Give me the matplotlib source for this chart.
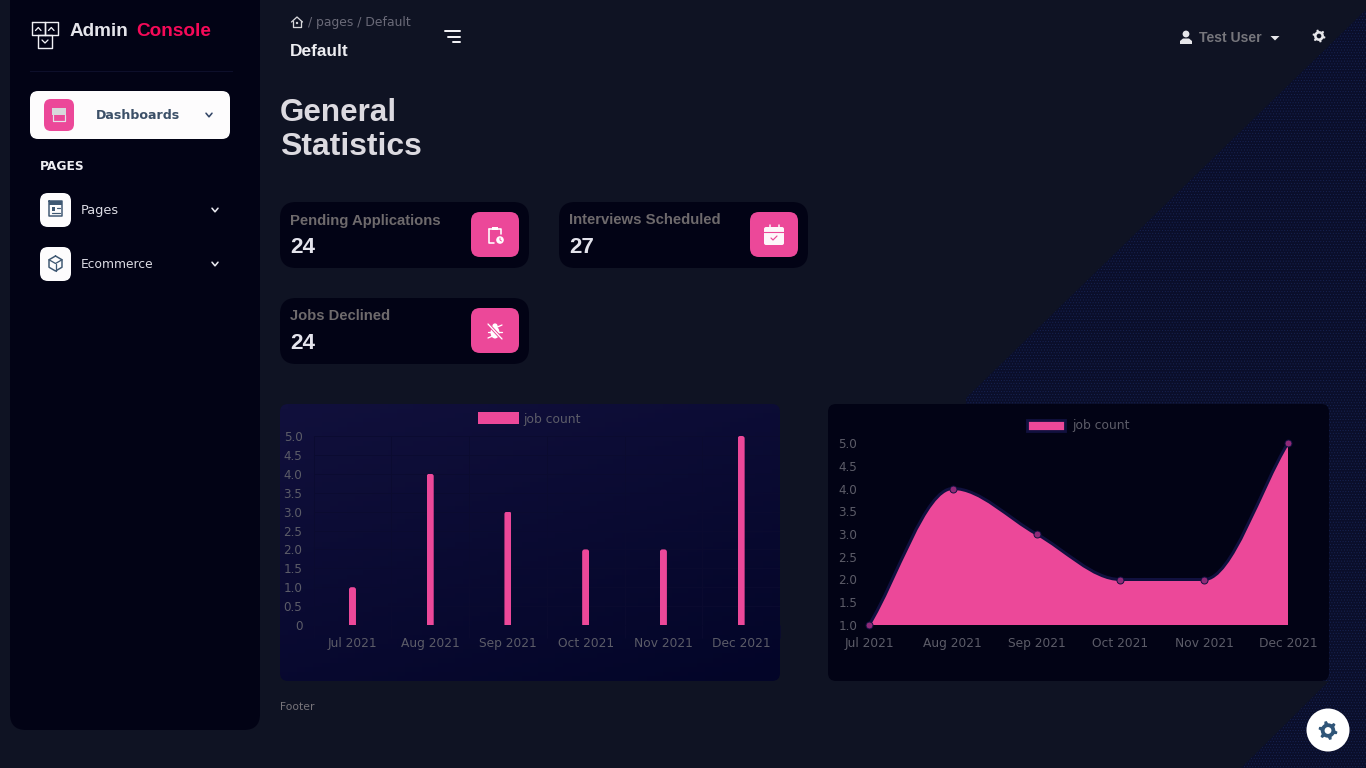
import numpy as np
import matplotlib
matplotlib.use("Agg")
import matplotlib.pyplot as plt
from matplotlib.patches import FancyBboxPatch, Polygon, Circle, Rectangle, PathPatch, Patch, Ellipse
from matplotlib.path import Path

months = ["Jul 2021", "Aug 2021", "Sep 2021", "Oct 2021", "Nov 2021", "Dec 2021"]
bar_counts = [1, 4, 3, 2, 2, 5]
line_counts = [1, 4, 3, 2, 2, 5]
bar_yticks = [0, 0.5, 1.0, 1.5, 2.0, 2.5, 3.0, 3.5, 4.0, 4.5, 5.0]
bar_ylabels = ["0", "0.5", "1.0", "1.5", "2.0", "2.5", "3.0", "3.5", "4.0", "4.5", "5.0"]
line_yticks = [1.0, 1.5, 2.0, 2.5, 3.0, 3.5, 4.0, 4.5, 5.0]
line_ylabels = ["1.0", "1.5", "2.0", "2.5", "3.0", "3.5", "4.0", "4.5", "5.0"]
series_name = "job count"
stat_titles = ["Pending Applications", "Interviews Scheduled", "Jobs Declined"]
stat_values = ["24", "27", "24"]

W, H = 1366, 768
BG, PANEL, PINK = "#0f1323", "#020315", "#ec4899"
NAVY = "#11113f"
SERIF = "Liberation Sans"
WIDE = "DejaVu Sans"

fig = plt.figure(figsize=(W / 100, H / 100), dpi=100, facecolor=BG)
ax = fig.add_axes([0, 0, 1, 1], zorder=0)
ax.set_xlim(0, W)
ax.set_ylim(H, 0)
ax.axis("off")


def rbox(x0, y0, x1, y1, r, color, z=2, **kw):
    p = FancyBboxPatch((x0 + r, y0 + r), x1 - x0 - 2 * r, y1 - y0 - 2 * r,
                       boxstyle=f"round,pad={r},rounding_size={r}",
                       fc=color, ec="none", zorder=z, **kw)
    ax.add_patch(p)
    return p


def label(x, y, s, px, color, weight="normal", family=WIDE, width=None, ha="left", z=6):
    y = y + (1.5 if family == SERIF else 0.7) + (1.5 if px >= 28 else 0)
    t = ax.text(x, y, s, fontsize=px * 0.72, color=color, fontweight=weight,
                family=family, va="center", ha=ha, zorder=z)
    if width:
        r = fig.canvas.get_renderer()
        t.set_fontsize(t.get_fontsize() * width / t.get_window_extent(r).width)
    return t


def stroke(pts, color, lw=1.3, z=7, closed=False):
    pts = list(pts)
    if closed:
        pts.append(pts[0])
    ax.plot(*zip(*pts), color=color, lw=lw * 0.72, zorder=z,
            solid_capstyle="round", solid_joinstyle="round")


def chevron(cx, cy, color, s=3, lw=1.6):
    stroke([(cx - s, cy - s * 0.6), (cx, cy + s * 0.6), (cx + s, cy - s * 0.6)], color, lw)


def gear(cx, cy, r, color, hole, z=8):
    ang = np.radians(np.arange(0, 360, 7.5))
    phase = (np.arange(len(ang)) % 8)
    rad = np.where(phase < 3, r, r * 0.76)
    ax.add_patch(Polygon(np.c_[cx + rad * np.cos(ang + 0.13), cy + rad * np.sin(ang + 0.13)],
                         fc=color, ec="none", zorder=z))
    ax.add_patch(Circle((cx, cy), r * 0.36, fc=hole, ec="none", zorder=z + 1))


# diagonal dotted background band
plt.rcParams["hatch.linewidth"] = 0.4
ax.add_patch(Polygon([(1376, 0), (966, 398), (966, 681), (1329, 681), (1241, 768), (1366, 768), (1366, 0)],
                     fc="#0a0e2a", ec="#172352", hatch="......", lw=0, zorder=1))

# sidebar
rbox(10, -20, 260, 730, 16, PANEL)
ax.plot([30, 232], [70.5, 70.5], color="#0d0f2a", lw=0.8, zorder=3)

# logo
for (a, b, c, d) in [(32, 22, 44.5, 35), (45, 22, 58, 35), (38, 35, 52, 48)]:
    stroke([(a, b), (c, b), (c, d), (a, d)], "#f0f0f4", 1.4, closed=True)
stroke([(35.5, 30.5), (38.3, 27.5), (41, 30.5)], "#f0f0f4", 1.3)
stroke([(48.5, 30.5), (51.3, 27.5), (54, 30.5)], "#f0f0f4", 1.3)
stroke([(42, 40), (45, 43), (48, 40)], "#f0f0f4", 1.3)
label(70, 29.5, "Admin", 18, "#e4e4ea", "bold", SERIF, width=59)
label(136, 29.5, "Console", 18, "#f50a58", "bold", SERIF, width=75)

# active nav item
rbox(30, 91, 230, 139, 8, "#fdfcfd", 3)
rbox(44, 99, 74, 131, 7, PINK, 4)
ax.add_patch(Rectangle((52, 108), 14, 7, fc="#d8d8dc", ec="none", zorder=5))
stroke([(53, 115), (53, 121), (65, 121), (65, 115)], "#e4e4e8", 1.2)
label(96, 115, "Dashboards", 13, "#3c5068", "bold", WIDE, width=84)
chevron(209, 115, "#344767")

label(40, 165.5, "PAGES", 12, "#eeeef2", "bold", WIDE, width=45)
for y0, txt, w in [(193, "Pages", 38), (247, "Ecommerce", 72)]:
    rbox(40, y0, 71, y0 + 34, 8, "#fdfcfd", 3)
    label(81, y0 + 17, txt, 12, "#dcdce4", "normal", WIDE, width=w)
    chevron(215, y0 + 17, "#e8e8ee")
# pages icon
stroke([(49, 201), (62, 201), (62, 216), (49, 216)], "#3f5873", 1.5, closed=True)
ax.add_patch(Rectangle((49, 201), 13, 3.5, fc="#3f5873", ec="none", zorder=7))
ax.add_patch(Rectangle((51.5, 207), 3.5, 3.5, fc="#3f5873", ec="none", zorder=7))
stroke([(57, 208), (60, 208)], "#3f5873", 1.2)
stroke([(52, 213), (60, 213)], "#3f5873", 1.2)
# cube icon
hexa = [(55.5 + 7.5 * np.sin(a), 263.5 - 7.5 * np.cos(a)) for a in np.radians(np.arange(0, 360, 60))]
stroke(hexa, "#3f5873", 1.5, closed=True)
stroke([hexa[5], (55.5, 263.5), hexa[1]], "#3f5873", 1.3)
stroke([(55.5, 263.5), hexa[3]], "#3f5873", 1.3)

# top bar
stroke([(291.5, 22), (297, 17), (302.5, 22)], "#d8d8dc", 1.3)
stroke([(293, 21), (293, 27), (301, 27), (301, 21)], "#d8d8dc", 1.3)
ax.add_patch(Circle((297, 23), 1.2, fc="#d8d8dc", ec="none", zorder=7))
label(308, 21.5, "/ pages / Default", 12, "#6a6a78", "normal", WIDE, width=103)
label(290, 50, "Default", 15, "#eeeef2", "bold", SERIF, width=58)
stroke([(445, 31), (460, 31)], "#f0f0f4", 2)
stroke([(448, 36.5), (460, 36.5)], "#f0f0f4", 2)
stroke([(453, 42), (460, 42)], "#f0f0f4", 2)
ax.add_patch(Circle((1186, 34), 3.4, fc="#e6e6ea", ec="none", zorder=7))
ax.add_patch(Polygon([(1180, 44), (1180, 41), (1183, 38.5), (1189, 38.5), (1192, 41), (1192, 44)],
                     fc="#e6e6ea", ec="none", zorder=7))
label(1199, 36.5, "Test User", 12, "#76767c", "bold", SERIF, width=63)
ax.add_patch(Polygon([(1270.5, 36), (1279.5, 36), (1275, 40.5)], fc="#e6e6ea", ec="none", zorder=7))
gear(1319, 36, 6.5, "#e6e6ea", BG)

label(280, 110, "General", 30, "#dcdae0", "bold", SERIF, width=117)
label(280, 144, "Statistics", 30, "#dcdae0", "bold", SERIF, width=142)

# stat cards
positions = [(280, 202), (559, 202), (280, 298)]
title_widths = [151, 152, 100]
for (x, y), title, val, w in zip(positions, stat_titles, stat_values, title_widths):
    rbox(x, y, x + 249, y + 66, 16, PANEL)
    rbox(x + 191, y + 10, x + 239, y + 55, 9, PINK, 4)
    label(x + 10, y + 17, title, 13, "#6e6a6c", "bold", SERIF, width=w)
    label(x + 10, y + 44, val, 22, "#e4e4ec", "bold", SERIF, width=25)
# clipboard
stroke([(489, 229), (501, 229), (501, 234)], "#fff", 1.6)
stroke([(489, 229), (489, 243), (494, 243)], "#fff", 1.6)
ax.add_patch(Rectangle((492, 226.5), 6, 3.5, fc="#fff", ec="none", zorder=7))
ax.add_patch(Circle((500, 240), 3.8, fc="#fff", ec="none", zorder=7))
stroke([(500, 238), (500, 240), (501.5, 241)], PINK, 0.9, z=8)
# calendar
rbox(764, 227, 784, 245, 2, "#fdf7fa", 7)
ax.plot([764, 784], [231.5, 231.5], color=PINK, lw=0.8, zorder=8)
stroke([(769.5, 227), (769.5, 225)], "#fdf7fa", 1.5)
stroke([(778.5, 227), (778.5, 225)], "#fdf7fa", 1.5)
stroke([(771, 238), (773, 240), (777, 236)], PINK, 1.2, z=8)
# bug
ax.add_patch(Ellipse((495, 332.5), 9, 12, fc="#fff", ec="none", zorder=7))
ax.add_patch(Circle((495, 326), 2.6, fc="#fff", ec="none", zorder=7))
for dy0, dy1 in ((-3, -6), (1, 1), (4, 7)):
    stroke([(495, 331 + dy0), (488, 331 + dy1)], "#fff", 1.3)
    stroke([(495, 331 + dy0), (502, 331 + dy1)], "#fff", 1.3)
stroke([(488, 324), (502, 339)], PINK, 3.2, z=8)
stroke([(488, 324), (502, 339)], "#fff", 1.3, z=9)

# chart cards
card1 = rbox(280, 404, 780, 681, 8, "none", 2)
u, v = np.meshgrid(np.linspace(0, 1, 60), np.linspace(0, 1, 60))
g = (0.35 * u + 0.65 * v)[..., None]
c0, c1 = np.array([0x11, 0x10, 0x3c]) / 255, np.array([0x03, 0x05, 0x28]) / 255
im = ax.imshow(c0 + (c1 - c0) * g, extent=(280, 780, 681, 404), aspect="auto", zorder=2)
im.set_clip_path(card1)
ax.set_xlim(0, W)
ax.set_ylim(H, 0)
rbox(828, 404, 1329, 681, 8, PANEL)

label(280, 706, "Footer", 10, "#77747a", "normal", WIDE, width=34)

# floating settings button
ax.add_patch(Circle((1328, 730), 21.5, fc="#ffffff", ec="none", zorder=7))
gear(1328, 730.5, 9.5, "#2f5578", "#ffffff")

TICK = "#5c5c68"
GRID = "#0b0b30"


def chart_axes(l, t, r, b):
    a = fig.add_axes([l / W, 1 - b / H, (r - l) / W, (b - t) / H], zorder=3)
    a.patch.set_alpha(0)
    for s in a.spines.values():
        s.set_visible(False)
    return a


def style_ticks(a, labels, ylabels, yticks):
    a.set_xticks(range(len(labels)), labels)
    a.set_yticks(yticks, ylabels)
    for t in a.get_xticklabels():
        t.set_fontsize(12.2 * 0.72)
        t.set_color(TICK)
        t.set_family(WIDE)
    for t in a.get_yticklabels():
        t.set_fontsize(12 * 0.72)
        t.set_color(TICK)
        t.set_family(WIDE)


# bar chart
a1 = chart_axes(313.6, 436, 780, 625)
x1 = np.arange(len(months))
bars = a1.bar(x1, bar_counts, width=7 / 77.7, color=PINK, zorder=3, label=series_name)
a1.set_xlim(-0.5, 5.5)
a1.set_ylim(0, 5)
style_ticks(a1, months, bar_ylabels, bar_yticks)
a1.set_xticks(np.arange(-0.5, 6), minor=True)
a1.tick_params(axis="x", which="major", length=0, pad=8.5)
a1.tick_params(axis="x", which="minor", length=9, color=GRID, width=0.6)
a1.tick_params(axis="y", length=0, pad=8)
a1.grid(True, axis="y", which="major", color=GRID, lw=0.6, zorder=1)
a1.grid(True, axis="x", which="minor", color=GRID, lw=0.6, zorder=1)
a1.set_axisbelow(True)
fig.canvas.draw()
for b in bars:
    e = b.get_window_extent()
    clip = FancyBboxPatch((e.x0 + 2.5, e.y0 - 10), e.width - 5, e.height + 7.5,
                          boxstyle="round,pad=2.5,rounding_size=2.5", transform=None)
    b.set_clip_path(clip)
a1.legend(handles=[Patch(fc=PINK, ec="none", label=series_name)], loc="center",
          bbox_to_anchor=(529.5, 419), bbox_transform=ax.transData, frameon=False,
          prop={"family": WIDE, "size": 12.4 * 0.72}, labelcolor=TICK, handlelength=3.3,
          handleheight=1.1, handletextpad=0.4, borderpad=0, borderaxespad=0)

# area chart
a2 = chart_axes(869, 443, 1288, 625)
a2.set_xlim(0, 5)
a2.set_ylim(1, 5)
style_ticks(a2, months, line_ylabels, line_yticks)
a2.tick_params(axis="x", length=0, pad=8.5)
a2.tick_params(axis="y", length=0, pad=8.5)

# monotone cubic curve through the values (same construction as Chart.js)
xs = np.arange(len(line_counts), dtype=float)
ys = np.array(line_counts, dtype=float)
d = np.diff(ys)
m = np.zeros_like(ys)
m[0], m[-1] = d[0], d[-1]
for i in range(1, len(ys) - 1):
    m[i] = 0.0 if d[i - 1] * d[i] <= 0 else (d[i - 1] + d[i]) / 2
verts = [(xs[0], ys[0])]
codes = [Path.MOVETO]
for i in range(len(xs) - 1):
    verts += [(xs[i] + 1 / 3, ys[i] + m[i] / 3), (xs[i + 1] - 1 / 3, ys[i + 1] - m[i + 1] / 3),
              (xs[i + 1], ys[i + 1])]
    codes += [Path.CURVE4] * 3
base = a2.get_ylim()[0]
fill_verts = verts + [(xs[-1], base), (xs[0], base), (xs[0], ys[0])]
fill_codes = codes + [Path.LINETO] * 3
a2.add_patch(PathPatch(Path(fill_verts, fill_codes), fc=PINK, ec="none", zorder=2))
a2.add_patch(PathPatch(Path(verts, codes), fc="none", ec=NAVY, lw=3 * 0.72, zorder=3))
a2.plot(xs, ys, ls="none", marker="o", ms=7 * 0.72, mfc="#8f2a78", mec=NAVY, mew=0.7,
        clip_on=False, zorder=4)
a2.legend(handles=[Patch(fc=PINK, ec=NAVY, lw=2, label=series_name)], loc="center",
          bbox_to_anchor=(1078, 426), bbox_transform=ax.transData, frameon=False,
          prop={"family": WIDE, "size": 12.4 * 0.72}, labelcolor=TICK, handlelength=3.1,
          handleheight=1.0, handletextpad=0.55, borderpad=0, borderaxespad=0)

fig.savefig("out.png", dpi=100, facecolor=BG)
